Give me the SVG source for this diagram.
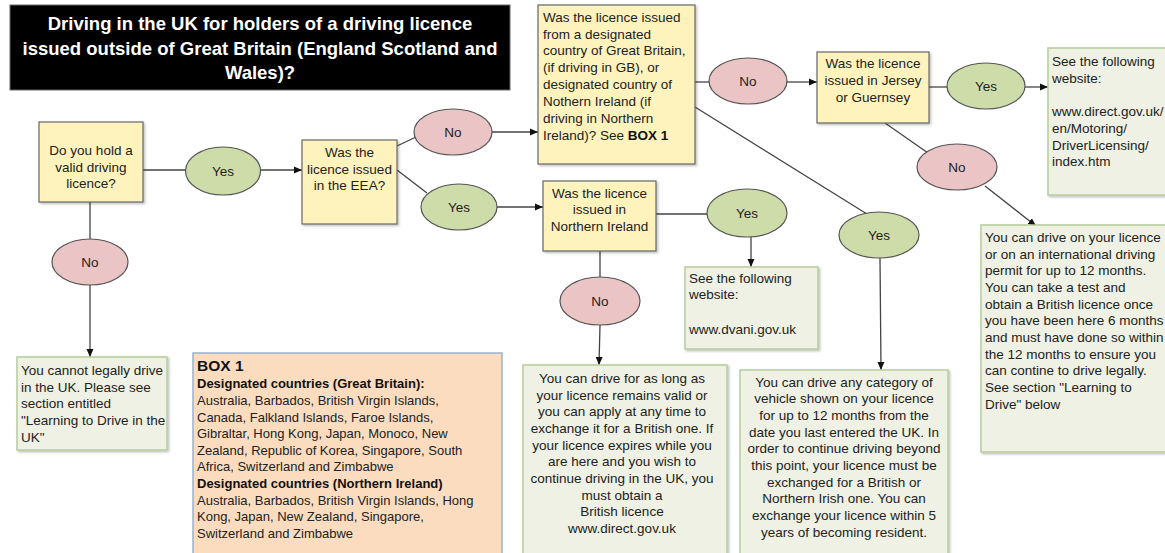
<svg xmlns="http://www.w3.org/2000/svg" width="1165" height="553" viewBox="0 0 1165 553">
<defs>
<marker id="arr" viewBox="0 0 8 8" refX="8" refY="4" markerWidth="8" markerHeight="8" markerUnits="userSpaceOnUse" orient="auto"><path d="M0,0.5 L8,4 L0,7.5 z" fill="#111"/></marker>
<filter id="sh" x="-5%" y="-5%" width="115%" height="115%"><feDropShadow dx="1.5" dy="1.5" stdDeviation="1" flood-color="#000" flood-opacity="0.25"/></filter>
<style>
text{font-family:"Liberation Sans",Arial,sans-serif;font-size:13.5px;fill:#222}
.c{text-anchor:middle}
.b{font-weight:bold;fill:#111}
.q{fill:#fef3bd;stroke:#666;stroke-width:1.2;filter:url(#sh)}
.g{fill:#eef1e3;stroke:#b8cb9c;stroke-width:1.5;filter:url(#sh)}
.p{fill:#fbdcbf;stroke:#9bb3d1;stroke-width:1.5}
.no{fill:#ebc5c5;stroke:#555;stroke-width:1.2}
.yes{fill:#cddca9;stroke:#555;stroke-width:1.2}
.ln{stroke:#444;stroke-width:1.3;fill:none}
.ar{marker-end:url(#arr)}
.t{fill:#fff;font-weight:bold;font-size:18.5px;text-anchor:middle}
.sm{font-size:13px}
</style>
</defs>
<rect width="1165" height="553" fill="#fff"/>

<g id="title">
<rect x="10" y="5" width="500" height="85" fill="#000" stroke="#666" stroke-width="1"/>
<text class="t" x="260" y="30">Driving in the UK for holders of a driving licence</text>
<text class="t" x="260" y="55">issued outside of Great Britain (England Scotland and</text>
<text class="t" x="260" y="79">Wales)?</text>
</g>

<g id="connectors">
<line class="ln" x1="143" y1="170" x2="185" y2="170"/>
<line class="ln ar" x1="260" y1="170" x2="302" y2="170"/>
<line class="ln" x1="90" y1="202" x2="90" y2="240"/>
<line class="ln ar" x1="90" y1="285" x2="90" y2="357"/>
<line class="ln" x1="397" y1="146" x2="416" y2="137"/>
<line class="ln ar" x1="492" y1="132" x2="538" y2="132"/>
<line class="ln" x1="397" y1="170" x2="427" y2="193"/>
<line class="ln ar" x1="497" y1="207" x2="543" y2="207"/>
<line class="ln" x1="695" y1="82" x2="709" y2="82"/>
<line class="ln ar" x1="787" y1="82" x2="817" y2="82"/>
<line class="ln" x1="695" y1="107" x2="867" y2="214"/>
<line class="ln ar" x1="880" y1="258" x2="881" y2="370"/>
<line class="ln" x1="929" y1="87" x2="947" y2="87"/>
<line class="ln ar" x1="1025" y1="87" x2="1048" y2="87"/>
<line class="ln" x1="885" y1="123" x2="928" y2="153"/>
<line class="ln ar" x1="985" y1="186" x2="1036" y2="226"/>
<line class="ln" x1="656" y1="214" x2="707" y2="214"/>
<line class="ln ar" x1="751" y1="237" x2="751" y2="267"/>
<line class="ln" x1="600" y1="251" x2="600" y2="277"/>
<line class="ln ar" x1="600" y1="325" x2="599" y2="365"/>
</g>

<g id="q-hold">
<rect class="q" x="39" y="122" width="104" height="80"/>
<text class="c" x="91" y="155">Do you hold a</text>
<text class="c" x="91" y="172">valid driving</text>
<text class="c" x="91" y="188">licence?</text>
</g>
<g id="yes-hold"><ellipse class="yes" cx="223" cy="171" rx="37.5" ry="24"/><text class="c" x="223" y="176">Yes</text></g>
<g id="no-hold"><ellipse class="no" cx="90" cy="262" rx="38" ry="23"/><text class="c" x="90" y="267">No</text></g>
<g id="cannot">
<rect class="g" x="17" y="357" width="150" height="93"/>
<text x="21" y="375">You cannot legally drive</text>
<text x="21" y="392">in the UK. Please see</text>
<text x="21" y="408">section entitled</text>
<text x="21" y="425">"Learning to Drive in the</text>
<text x="21" y="442">UK"</text>
</g>

<g id="q-eea">
<rect class="q" x="302" y="140" width="95" height="84"/>
<text class="c" x="349.5" y="157">Was the</text>
<text class="c" x="349.5" y="174">licence issued</text>
<text class="c" x="349.5" y="190">in the EEA?</text>
</g>
<g id="no-eea"><ellipse class="no" cx="453" cy="132" rx="39" ry="23"/><text class="c" x="453" y="137">No</text></g>
<g id="yes-eea"><ellipse class="yes" cx="459" cy="207" rx="38" ry="23"/><text class="c" x="459" y="212">Yes</text></g>

<g id="q-designated">
<rect class="q" x="538" y="5" width="157" height="159"/>
<text x="543" y="22">Was the licence issued</text>
<text x="543" y="39">from a designated</text>
<text x="543" y="55">country of Great Britain,</text>
<text x="543" y="72">(if driving in GB), or</text>
<text x="543" y="89">designated country of</text>
<text x="543" y="106">Nothern Ireland (if</text>
<text x="543" y="123">driving in Northern</text>
<text x="543" y="140">Ireland)? See <tspan class="b">BOX 1</tspan></text>
</g>
<g id="no-designated"><ellipse class="no" cx="748" cy="81" rx="39" ry="23"/><text class="c" x="748" y="86">No</text></g>
<g id="yes-designated"><ellipse class="yes" cx="879" cy="235" rx="40" ry="23"/><text class="c" x="879" y="240">Yes</text></g>

<g id="q-jersey">
<rect class="q" x="817" y="52" width="112" height="71"/>
<text class="c" x="873" y="68">Was the licence</text>
<text class="c" x="873" y="85">issued in Jersey</text>
<text class="c" x="873" y="102">or Guernsey</text>
</g>
<g id="yes-jersey"><ellipse class="yes" cx="986" cy="86" rx="39" ry="23"/><text class="c" x="986" y="91">Yes</text></g>
<g id="no-jersey"><ellipse class="no" cx="957" cy="167" rx="40" ry="23"/><text class="c" x="957" y="172">No</text></g>
<g id="web-jersey">
<rect class="g" x="1048" y="48" width="130" height="147"/>
<text x="1052" y="66">See the following</text>
<text x="1052" y="83">website:</text>
<text x="1052" y="116">www.direct.gov.uk/</text>
<text x="1052" y="133">en/Motoring/</text>
<text x="1052" y="150">DriverLicensing/</text>
<text x="1052" y="166">index.htm</text>
</g>
<g id="intl-permit">
<rect class="g" x="981" y="225" width="195" height="227"/>
<text x="985" y="242">You can drive on your licence</text>
<text x="985" y="259">or on an international driving</text>
<text x="985" y="275">permit for up to 12 months.</text>
<text x="985" y="292">You can take a test and</text>
<text x="985" y="309">obtain a British licence once</text>
<text x="985" y="325">you have been here 6 months</text>
<text x="985" y="342">and must have done so within</text>
<text x="985" y="359">the 12 months to ensure you</text>
<text x="985" y="375">can contine to drive legally.</text>
<text x="985" y="392">See section "Learning to</text>
<text x="985" y="409">Drive" below</text>
</g>

<g id="q-ni">
<rect class="q" x="543" y="181" width="113" height="70"/>
<text class="c" x="599.5" y="198">Was the licence</text>
<text class="c" x="599.5" y="214">issued in</text>
<text class="c" x="599.5" y="231">Northern Ireland</text>
</g>
<g id="yes-ni"><ellipse class="yes" cx="747" cy="213" rx="40" ry="24"/><text class="c" x="747" y="218">Yes</text></g>
<g id="no-ni"><ellipse class="no" cx="600" cy="301" rx="40" ry="24"/><text class="c" x="600" y="306">No</text></g>
<g id="web-dvani">
<rect class="g" x="685" y="267" width="133" height="82"/>
<text x="689" y="283">See the following</text>
<text x="689" y="299">website:</text>
<text x="689" y="334">www.dvani.gov.uk</text>
</g>

<g id="eea-result">
<rect class="g" x="523" y="365" width="204" height="200"/>
<text class="c" x="622" y="383">You can drive for as long as</text>
<text class="c" x="622" y="400">your licence remains valid or</text>
<text class="c" x="622" y="416">you can apply at any time to</text>
<text class="c" x="622" y="433">exchange it for a British one. If</text>
<text class="c" x="622" y="450">your licence expires while you</text>
<text class="c" x="622" y="466">are here and you wish to</text>
<text class="c" x="622" y="483">continue driving in the UK, you</text>
<text class="c" x="622" y="500">must obtain a</text>
<text class="c" x="622" y="516">British licence</text>
<text class="c" x="622" y="533">www.direct.gov.uk</text>
</g>

<g id="designated-result">
<rect class="g" x="740" y="370" width="208" height="200"/>
<text class="c" x="844" y="387">You can drive any category of</text>
<text class="c" x="844" y="403">vehicle shown on your licence</text>
<text class="c" x="844" y="420">for up to 12 months from the</text>
<text class="c" x="844" y="437">date you last entered the UK. In</text>
<text class="c" x="844" y="453">order to continue driving beyond</text>
<text class="c" x="844" y="470">this point, your licence must be</text>
<text class="c" x="844" y="487">exchanged for a British or</text>
<text class="c" x="844" y="503">Northern Irish one. You can</text>
<text class="c" x="844" y="520">exchange your licence within 5</text>
<text class="c" x="844" y="537">years of becoming resident.</text>
</g>

<g id="box1">
<rect class="p" x="193" y="353" width="309" height="215"/>
<text class="b" x="197" y="371" style="font-size:15.5px">BOX 1</text>
<text class="b sm" x="197" y="388">Designated countries (Great Britain):</text>
<text class="sm" x="197" y="405">Australia, Barbados, British Virgin Islands,</text>
<text class="sm" x="197" y="422">Canada, Falkland Islands, Faroe Islands,</text>
<text class="sm" x="197" y="438">Gibraltar, Hong Kong, Japan, Monoco, New</text>
<text class="sm" x="197" y="455">Zealand, Republic of Korea, Singapore, South</text>
<text class="sm" x="197" y="471">Africa, Switzerland and Zimbabwe</text>
<text class="b sm" x="197" y="488">Designated countries (Northern Ireland)</text>
<text class="sm" x="197" y="505">Australia, Barbados, British Virgin Islands, Hong</text>
<text class="sm" x="197" y="521">Kong, Japan, New Zealand, Singapore,</text>
<text class="sm" x="197" y="538">Switzerland and Zimbabwe</text>
</g>
</svg>
